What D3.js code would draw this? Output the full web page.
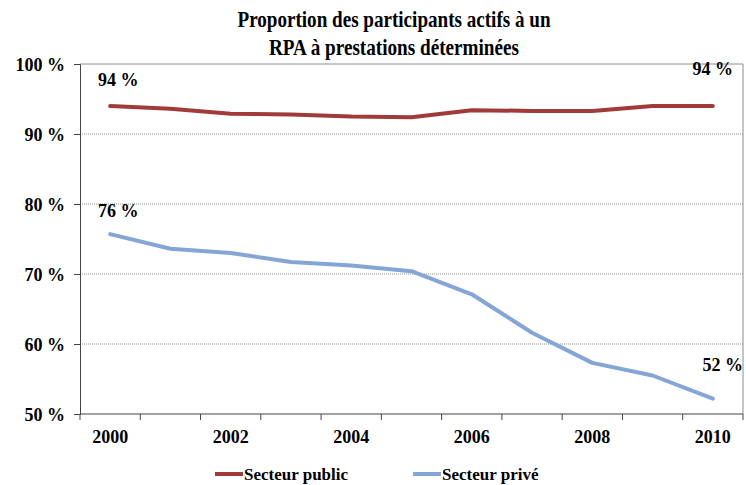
<!DOCTYPE html>
<html lang="fr">
  <head>
    <meta charset="UTF-8" />
    <title>RPA à prestations déterminées</title>
    <style>
      body { margin: 0; background: #fff; }
      text { font-family: "Liberation Serif", "Times New Roman", serif; font-weight: bold; fill: #000; }
    </style>
    <script src="https://d3js.org/d3.v7.min.js"></script>
  </head>
  <body>
    <div id="chart"></div>
    <script>
      // valeurs
      const years = ["2000", "2001", "2002", "2003", "2004", "2005", "2006", "2007", "2008", "2009", "2010"];
      const publicValues = [94.0, 93.6, 92.9, 92.8, 92.5, 92.4, 93.4, 93.3, 93.3, 94.0, 94.0];
      const priveValues = [75.7, 73.6, 73.0, 71.7, 71.2, 70.4, 67.1, 61.6, 57.3, 55.5, 52.2];
      const yTicks = [50, 60, 70, 80, 90, 100];
      const xLabels = ["2000", "2002", "2004", "2006", "2008", "2010"];
      const seriesNames = ["Secteur public", "Secteur privé"];
      const titleLines = ["Proportion des participants actifs à un", "RPA à prestations déterminées"];

      const width = 746, height = 485;
      const svg = d3.select("#chart").append("svg")
        .attr("width", width).attr("height", height);

      const x = d3.scaleBand().domain(years).range([80, 743]);
      const y = d3.scaleLinear().domain([50, 100]).range([414, 64]);

      // titre (police étroite dans l'original)
      const titleWidths = [313, 250];
      svg.selectAll(".title").data(titleLines).enter().append("text")
        .attr("class", "title")
        .attr("x", 394)
        .attr("y", (d, i) => 27 + i * 28)
        .attr("text-anchor", "middle")
        .attr("textLength", (d, i) => titleWidths[i])
        .attr("lengthAdjust", "spacingAndGlyphs")
        .style("font-size", "24px")
        .text(d => d);

      // grille
      svg.selectAll(".grid").data(yTicks.filter(t => t > 50 && t < 100)).enter().append("line")
        .attr("x1", 80).attr("x2", 743)
        .attr("y1", d => y(d)).attr("y2", d => y(d))
        .attr("stroke", "#8c8c8c").attr("stroke-dasharray", "1,1");

      // cadre haut / droite
      svg.append("path")
        .attr("d", `M80,${y(100)}H743V${y(50)}`)
        .attr("fill", "none").attr("stroke", "#8c8c8c");

      // axe y
      const yAxis = svg.append("g").attr("transform", "translate(80,0)")
        .call(d3.axisLeft(y).tickValues(yTicks).tickSize(6).tickFormat(d => d + " %"));
      yAxis.select(".domain").attr("stroke", "#444");
      yAxis.selectAll(".tick line").attr("stroke", "#444");
      yAxis.selectAll("text").style("font-size", "18px").attr("x", -15).attr("dy", "0.35em")
        .style("font-family", "Liberation Serif").style("font-weight", "bold");

      // axe x
      const xAxis = svg.append("g").attr("transform", `translate(0,${y(50)})`);
      xAxis.append("line").attr("x1", 80).attr("x2", 743).attr("stroke", "#444");
      xAxis.selectAll(".xt").data(years.concat(["end"])).enter().append("line")
        .attr("x1", d => d === "end" ? 743 : x(d))
        .attr("x2", d => d === "end" ? 743 : x(d))
        .attr("y1", 0).attr("y2", 6).attr("stroke", "#444");
      xAxis.selectAll(".xl").data(xLabels).enter().append("text")
        .attr("x", d => x(d) + x.bandwidth() / 2)
        .attr("y", 29)
        .attr("text-anchor", "middle")
        .style("font-size", "18px")
        .text(d => d);

      const line = d3.line()
        .x((d, i) => x(years[i]) + x.bandwidth() / 2)
        .y(d => y(d));

      const colors = ["#a13a3a", "#84a5d6"];
      [publicValues, priveValues].forEach((vals, k) => {
        svg.append("path").datum(vals)
          .attr("d", line)
          .attr("fill", "none")
          .attr("stroke", colors[k])
          .attr("stroke-width", 4)
          .attr("stroke-linecap", "round")
          .attr("stroke-linejoin", "round");
      });

      // étiquettes de données
      const labels = [
        { v: publicValues[0], i: 0, dx: 8, dy: -20 },
        { v: publicValues[10], i: 10, dx: 0, dy: -31 },
        { v: priveValues[0], i: 0, dx: 8, dy: -17 },
        { v: priveValues[10], i: 10, dx: 10, dy: -28 }
      ];
      svg.selectAll(".dl").data(labels).enter().append("text")
        .attr("x", d => x(years[d.i]) + x.bandwidth() / 2 + d.dx)
        .attr("y", d => y(d.v) + d.dy)
        .attr("text-anchor", "middle")
        .style("font-size", "18px")
        .text(d => Math.round(d.v) + " %");

      // légende
      const legend = svg.selectAll(".lg").data(seriesNames).enter().append("g")
        .attr("transform", (d, i) => `translate(${215 + i * 198},474)`);
      legend.append("line").attr("x1", 0).attr("x2", 28)
        .attr("stroke", (d, i) => colors[i]).attr("stroke-width", 4);
      legend.append("text").attr("x", 29).attr("y", 6)
        .style("font-size", "17px").text(d => d);
    </script>
  </body>
</html>
